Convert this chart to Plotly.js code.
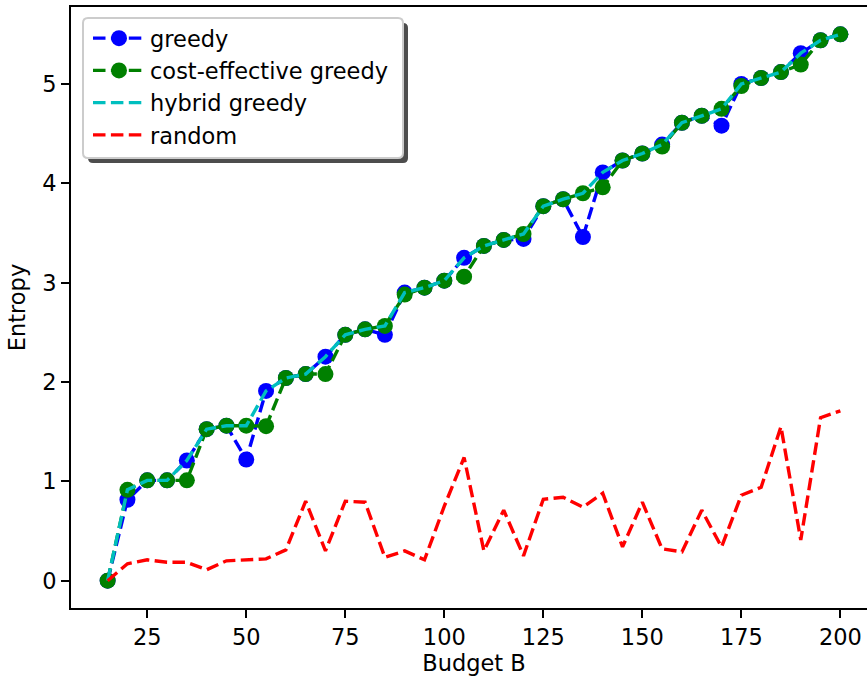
<!DOCTYPE html>
<html>
<head>
<meta charset="utf-8">
<script src="https://cdn.plot.ly/plotly-3.0.1.min.js"></script>
<style>
html,body{margin:0;padding:0;overflow:hidden;background:#fff;}
#chart{width:880px;height:680px;}
</style>
</head>
<body>
<div id="chart"></div>
<script>
const budget = [15,20,25,30,35,40,45,50,55,60,65,70,75,80,85,90,95,100,105,110,115,120,125,130,135,140,145,150,155,160,165,170,175,180,185,190,195,200];
const greedy = [0,0.815,1.01,1.01,1.21,1.525,1.56,1.22,1.91,2.04,
  2.08,2.255,2.475,2.53,2.475,2.9,2.95,3.02,3.25,3.37,
  3.43,3.44,3.77,3.84,3.46,4.11,4.23,4.30,4.39,4.61,
  4.68,4.58,5.0,5.06,5.12,5.31,5.44,5.50];
const costEffective = [0,0.915,1.01,1.01,1.01,1.525,1.56,1.56,1.555,2.04,
  2.08,2.08,2.475,2.53,2.565,2.88,2.95,3.02,3.06,3.37,
  3.43,3.49,3.77,3.84,3.90,3.96,4.23,4.30,4.37,4.61,
  4.68,4.75,4.98,5.06,5.12,5.195,5.44,5.50];
const hybrid = [0,0.915,1.01,1.01,1.21,1.525,1.56,1.56,1.91,2.04,
  2.08,2.255,2.475,2.53,2.565,2.9,2.95,3.02,3.25,3.37,
  3.43,3.49,3.77,3.84,3.90,4.11,4.23,4.30,4.39,4.61,
  4.68,4.75,5.0,5.06,5.12,5.31,5.44,5.50];
const randomSel = [0,0.17,0.21,0.185,0.185,0.11,0.2,0.21,0.22,0.31,
  0.80,0.30,0.80,0.79,0.235,0.30,0.21,0.75,1.24,0.30,
  0.71,0.25,0.82,0.84,0.74,0.88,0.34,0.79,0.32,0.29,
  0.71,0.34,0.86,0.94,1.55,0.41,1.64,1.71];
const seriesNames = ['greedy','cost-effective greedy','hybrid greedy','random'];
const xTicks = [25,50,75,100,125,150,175,200];
const yTicks = [0,1,2,3,4,5];

const W = 880, H = 680;
const M = {l:71, r:3, t:7, b:72};
const PW = W - M.l - M.r, PH = H - M.t - M.b;
const dash = '12.5px,5.4px';
const LW = 3.4;
const FONT = 'DejaVu Sans, sans-serif';
const FS = 22.5;

const traces = [
  {x:budget, y:greedy, name:seriesNames[0], mode:'lines+markers',
   line:{color:'#0000ff', width:LW, dash:dash}, marker:{color:'#0000ff', size:16}},
  {x:budget, y:costEffective, name:seriesNames[1], mode:'lines+markers',
   line:{color:'#008000', width:LW, dash:dash}, marker:{color:'#008000', size:16}},
  {x:budget, y:hybrid, name:seriesNames[2], mode:'lines',
   line:{color:'#00bfbf', width:LW, dash:dash}},
  {x:budget, y:randomSel, name:seriesNames[3], mode:'lines',
   line:{color:'#ff0000', width:LW, dash:dash}}
];

function px(x){ return (x - M.l)/PW; }
function py(y){ return (H - M.b - y)/PH; }
function roundRect(x0,y0,x1,y1,r){
  const X=v=>px(v), Y=v=>py(v);
  return `M ${X(x0+r)},${Y(y0)} L ${X(x1-r)},${Y(y0)} Q ${X(x1)},${Y(y0)} ${X(x1)},${Y(y0+r)} `+
         `L ${X(x1)},${Y(y1-r)} Q ${X(x1)},${Y(y1)} ${X(x1-r)},${Y(y1)} `+
         `L ${X(x0+r)},${Y(y1)} Q ${X(x0)},${Y(y1)} ${X(x0)},${Y(y1-r)} `+
         `L ${X(x0)},${Y(y0+r)} Q ${X(x0)},${Y(y0)} ${X(x0+r)},${Y(y0)} Z`;
}

const layout = {
  width:W, height:H,
  margin:M,
  paper_bgcolor:'#fff', plot_bgcolor:'#fff',
  font:{family:FONT, size:FS, color:'#000'},
  showlegend:true,
  legend:{x:px(88), y:py(17), xanchor:'left', yanchor:'top',
    bgcolor:'rgba(0,0,0,0)', borderwidth:0, font:{family:FONT, size:FS, color:'#000'},
    tracegroupgap:0, itemwidth:52},
  xaxis:{range:[5.75,209.25], tickvals:xTicks, ticktext:xTicks.map(String),
    showgrid:false, zeroline:false, showline:true, mirror:true, linecolor:'#000', linewidth:1.8,
    ticks:'outside', ticklen:8, tickwidth:1.8, tickcolor:'#000',
    tickfont:{family:FONT, size:FS},
    title:{text:'Budget B', font:{family:FONT, size:FS}, standoff:6}},
  yaxis:{range:[-0.275,5.775], tickvals:yTicks, ticktext:yTicks.map(String),
    showgrid:false, zeroline:false, showline:true, mirror:true, linecolor:'#000', linewidth:1.8,
    ticks:'outside', ticklen:8, tickwidth:1.8, tickcolor:'#000',
    tickfont:{family:FONT, size:FS},
    title:{text:'Entropy', font:{family:FONT, size:FS}, standoff:10}},
  shapes:[
    {type:'path', xref:'paper', yref:'paper', layer:'above',
     path:roundRect(88,23,408,163,5), fillcolor:'rgba(77,77,77,1)', line:{width:0}},
    {type:'path', xref:'paper', yref:'paper', layer:'above',
     path:roundRect(83,18,403,158,5), fillcolor:'#fff', line:{color:'#cccccc', width:2}}
  ]
};

Plotly.newPlot('chart', traces, layout, {displayModeBar:false, staticPlot:true});
</script>
</body>
</html>
